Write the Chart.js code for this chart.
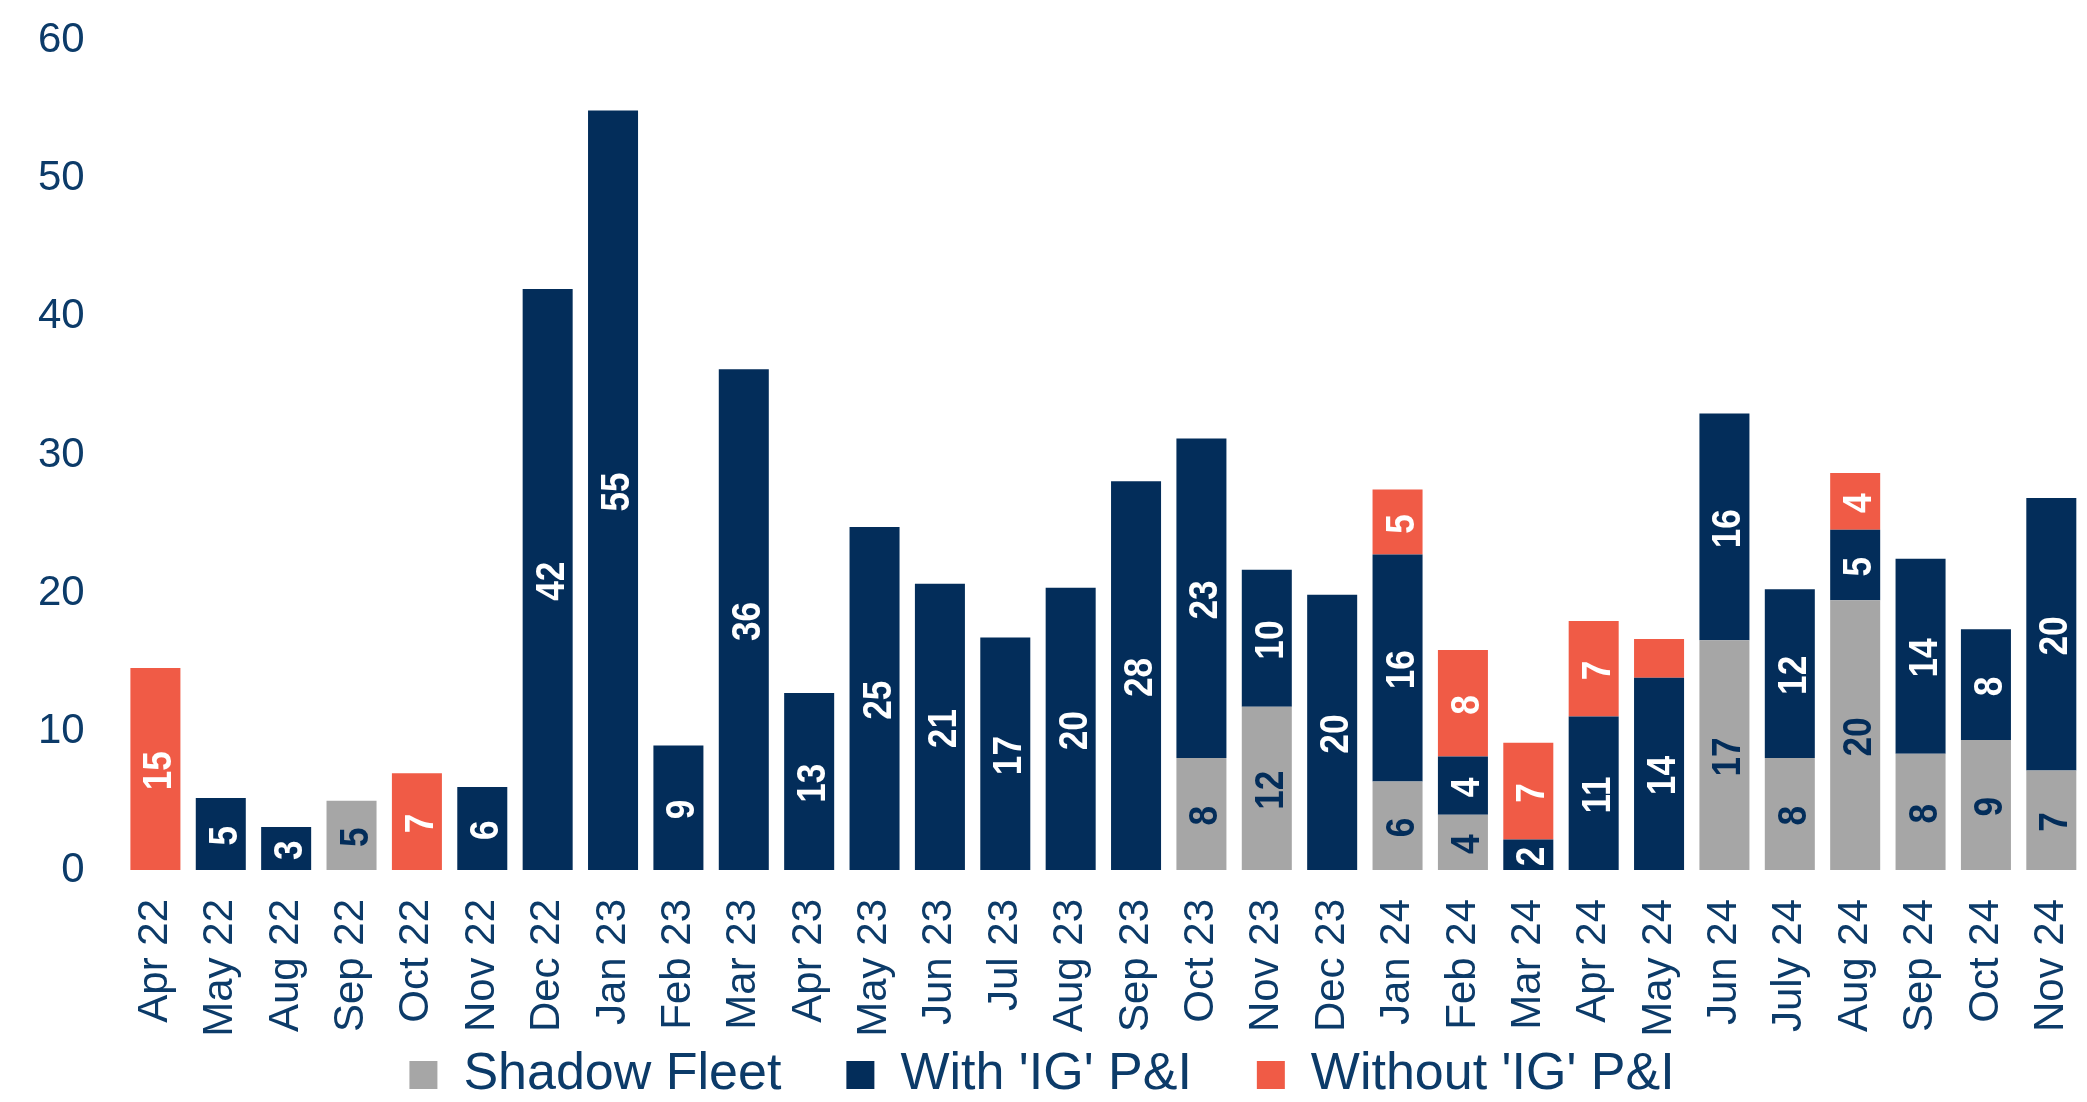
<!DOCTYPE html>
<html>
<head>
<meta charset="utf-8">
<script src="https://cdn.jsdelivr.net/npm/chart.js@4/dist/chart.umd.min.js"></script>
<style>
html,body{margin:0;padding:0;background:#ffffff;overflow:hidden}
#wrap{width:2087px;height:1102px;position:relative}
</style>
</head>
<body>
<div id="wrap"><canvas id="c"></canvas></div>
<script>
// ---- data ----
const categories = ["Apr 22","May 22","Aug 22","Sep 22","Oct 22","Nov 22","Dec 22",
  "Jan 23","Feb 23","Mar 23","Apr 23","May 23","Jun 23","Jul 23","Aug 23","Sep 23","Oct 23","Nov 23","Dec 23",
  "Jan 24","Feb 24","Mar 24","Apr 24","May 24","Jun 24","July 24","Aug 24","Sep 24","Oct 24","Nov 24"];

const shadowFleet = [null,null,null,5.0,null,null,null,
  null,null,null,null,null,null,null,null,null,8.1,11.8,null,
  6.4,4.0,null,null,null,16.6,8.1,19.5,8.4,9.4,7.2];

const withIG = [null,5.2,3.1,null,null,6.0,42.0,
  54.9,9.0,36.2,12.8,24.8,20.7,16.8,20.4,28.1,23.1,9.9,19.9,
  16.4,4.2,2.2,11.1,13.9,16.4,12.2,5.1,14.1,8.0,19.7];

const withoutIG = [14.6,null,null,null,7.0,null,null,
  null,null,null,null,null,null,null,null,null,null,null,null,
  4.7,7.7,7.0,6.9,2.8,null,null,4.1,null,null,null];

const seriesNames = ["Shadow Fleet", "With 'IG' P&I", "Without 'IG' P&I"];
const yTicks = [0, 10, 20, 30, 40, 50, 60];
const withoutUnlabeled = ["May 24"];

// ---- styles ----
const NAVY = '#032D5A';
const ORANGE = '#F05B46';
const GREY = '#A6A6A6';
const TEXT = '#0C3B69';
const FONT = '"Liberation Sans", Arial, Helvetica, sans-serif';
const LEGEND_PAD = 65;
const LEGEND_ROW_PAD = 9;

const barLabels = {
  id: 'barLabels',
  afterDatasetsDraw(chart) {
    const ctx = chart.ctx;
    chart.data.datasets.forEach((ds, di) => {
      const meta = chart.getDatasetMeta(di);
      if (!chart.isDatasetVisible(di)) return;
      meta.data.forEach((el, i) => {
        const v = ds.data[i];
        if (v == null || v <= 0) return;
        if ((ds.skipLabels || []).includes(categories[i])) return;
        const p = el.getProps(['x', 'y', 'base'], true);
        const cy = (p.y + p.base) / 2;
        ctx.save();
        ctx.translate(p.x, cy);
        ctx.rotate(-Math.PI / 2);
        ctx.scale(0.88, 1);
        ctx.font = 'bold 40px ' + FONT;
        ctx.fillStyle = ds.labelColor;
        ctx.textAlign = 'center';
        ctx.textBaseline = 'middle';
        ctx.fillText(String(Math.round(v)), -2, 5);
        ctx.restore();
      });
    });
  }
};

// legend row uses wide horizontal padding; lift its box so the row sits just below the axis labels
const legendPlace = {
  id: 'legendPlace',
  afterLayout(chart) {
    if (chart.legend) chart.legend.top -= (LEGEND_PAD - LEGEND_ROW_PAD);
  }
};

new Chart(document.getElementById('c'), {
  type: 'bar',
  data: {
    labels: categories,
    datasets: [
      { label: seriesNames[0], data: shadowFleet, backgroundColor: GREY, labelColor: NAVY, borderWidth: 0 },
      { label: seriesNames[1], data: withIG, backgroundColor: NAVY, labelColor: '#FFFFFF', borderWidth: 0 },
      { label: seriesNames[2], data: withoutIG, backgroundColor: ORANGE, labelColor: '#FFFFFF', borderWidth: 0, skipLabels: withoutUnlabeled }
    ]
  },
  options: {
    responsive: true,
    maintainAspectRatio: false,
    animation: false,
    devicePixelRatio: 1,
    layout: { padding: { top: 40, left: 0, right: 3, bottom: 0 } },
    datasets: { bar: { barPercentage: 0.765, categoryPercentage: 1.0 } },
    scales: {
      x: {
        stacked: true,
        grid: { display: false, drawTicks: false },
        border: { display: false },
        ticks: {
          autoSkip: false, minRotation: 90, maxRotation: 90, padding: 29,
          color: TEXT, font: { family: FONT, size: 42 }
        },
        afterFit(scale) { scale.height = 170; scale.paddingLeft = 0; scale.paddingRight = 0; }
      },
      y: {
        stacked: true,
        min: yTicks[0], max: yTicks[yTicks.length - 1],
        grid: { display: false, drawTicks: false },
        border: { display: false },
        afterBuildTicks(scale) { scale.ticks = yTicks.map(v => ({ value: v })); },
        ticks: { padding: 38, color: TEXT, font: { family: FONT, size: 42 } },
        afterFit(scale) { scale.paddingTop = 0; scale.paddingBottom = 0; }
      }
    },
    plugins: {
      legend: {
        position: 'bottom',
        maxHeight: 62,
        labels: {
          boxWidth: 28, boxHeight: 28, padding: LEGEND_PAD,
          color: TEXT, font: { family: FONT, size: 52 }
        }
      },
      tooltip: { enabled: false }
    }
  },
  plugins: [barLabels, legendPlace]
});
</script>
</body>
</html>
